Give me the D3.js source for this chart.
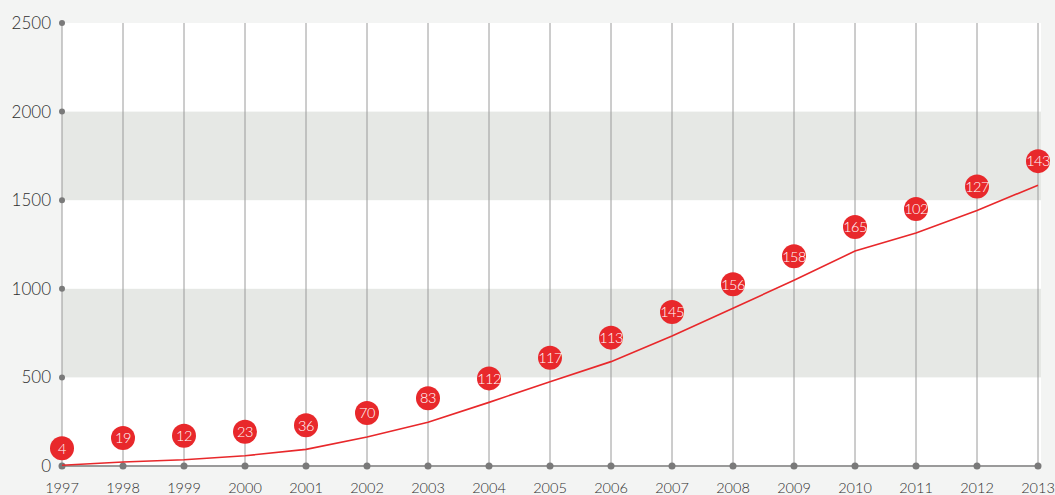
<!DOCTYPE html>
<html>
<head>
<meta charset="utf-8">
<script src="https://d3js.org/d3.v7.min.js"></script>
<style>
  body { margin: 0; background: #f3f4f3; }
  svg { display: block; }
  .tick-label { font-family: Lato, "Open Sans", sans-serif; font-weight: 300; fill: #2e2e2e; }
  .bubble-text { font-family: Lato, "Open Sans", sans-serif; font-weight: 300; fill: #fff; font-size: 14.5px; }
</style>
</head>
<body>
<svg id="chart" width="1055" height="495"></svg>
<script>
// years along the x axis
const years = [1997, 1998, 1999, 2000, 2001, 2002, 2003, 2004, 2005, 2006, 2007, 2008, 2009, 2010, 2011, 2012, 2013];
// numbers shown in the red bubbles (per year)
const yearly = [4, 19, 12, 23, 36, 70, 83, 112, 117, 113, 145, 156, 158, 165, 102, 127, 143];
// running total drawn by the red line
const totals = [4, 23, 35, 58, 94, 164, 247, 359, 476, 589, 734, 890, 1048, 1213, 1315, 1442, 1585];
const yTicks = [0, 500, 1000, 1500, 2000, 2500];

const svg = d3.select("#chart");
const plotLeft = 62, plotRight = 1038, plotTop = 23, plotBottom = 466;

const x = d3.scaleLinear().domain([1997, 2013]).range([plotLeft, plotRight]);
const y = d3.scaleLinear().domain([0, 2500]).range([plotBottom, plotTop]);

// white plot area
svg.append("rect")
  .attr("x", plotLeft).attr("y", plotTop)
  .attr("width", plotRight + 3 - plotLeft).attr("height", plotBottom - plotTop)
  .attr("fill", "#fff");

// grey bands
[[500, 1000], [1500, 2000]].forEach(function(b) {
  svg.append("rect")
    .attr("x", plotLeft).attr("y", y(b[1]))
    .attr("width", plotRight + 3 - plotLeft).attr("height", y(b[0]) - y(b[1]))
    .attr("fill", "#e6e8e5");
});

// vertical grid lines
svg.selectAll(".vgrid")
  .data(years)
  .enter().append("line")
  .attr("class", "vgrid")
  .attr("x1", d => x(d)).attr("x2", d => x(d))
  .attr("y1", plotTop).attr("y2", plotBottom)
  .attr("stroke", "#9a9a9a")
  .attr("stroke-width", 1);

// x axis base line
svg.append("line")
  .attr("x1", plotLeft).attr("x2", plotRight)
  .attr("y1", plotBottom).attr("y2", plotBottom)
  .attr("stroke", "#9a9a9a")
  .attr("stroke-width", 2);

// x tick dots and labels
svg.selectAll(".xdot")
  .data(years)
  .enter().append("circle")
  .attr("class", "xdot")
  .attr("cx", d => x(d)).attr("cy", plotBottom)
  .attr("r", 3.5)
  .attr("fill", "#7a7a7a");

svg.selectAll(".xlabel")
  .data(years)
  .enter().append("text")
  .attr("class", "tick-label")
  .attr("x", d => x(d)).attr("y", 493)
  .attr("text-anchor", "middle")
  .attr("font-size", "14.5px")
  .text(d => d);

// y tick dots and labels
svg.selectAll(".ydot")
  .data(yTicks)
  .enter().append("circle")
  .attr("class", "ydot")
  .attr("cx", plotLeft).attr("cy", d => y(d))
  .attr("r", 3)
  .attr("fill", "#7a7a7a");

svg.selectAll(".ylabel")
  .data(yTicks)
  .enter().append("text")
  .attr("class", "tick-label")
  .attr("x", 51).attr("y", d => y(d) + 6)
  .attr("text-anchor", "end")
  .attr("font-size", "17px")
  .text(d => d);

// running total line
const line = d3.line()
  .x((d, i) => x(years[i]))
  .y(d => y(d));

svg.append("path")
  .datum(totals)
  .attr("d", line)
  .attr("fill", "none")
  .attr("stroke", "#e8282b")
  .attr("stroke-width", 1.6);

// bubbles above the line (the first one sits a bit lower, next to the axis)
const bubbles = svg.selectAll(".bubble")
  .data(years)
  .enter().append("g")
  .attr("class", "bubble")
  .attr("transform", (d, i) => "translate(" + x(d) + "," + (y(totals[i]) - (i === 0 ? 17 : 24)) + ")");

bubbles.append("circle")
  .attr("r", 12)
  .attr("fill", "#e8282b");

bubbles.append("text")
  .attr("class", "bubble-text")
  .attr("text-anchor", "middle")
  .attr("dy", "0.36em")
  .attr("letter-spacing", "-0.5px")
  .text((d, i) => yearly[i]);
</script>
</body>
</html>
